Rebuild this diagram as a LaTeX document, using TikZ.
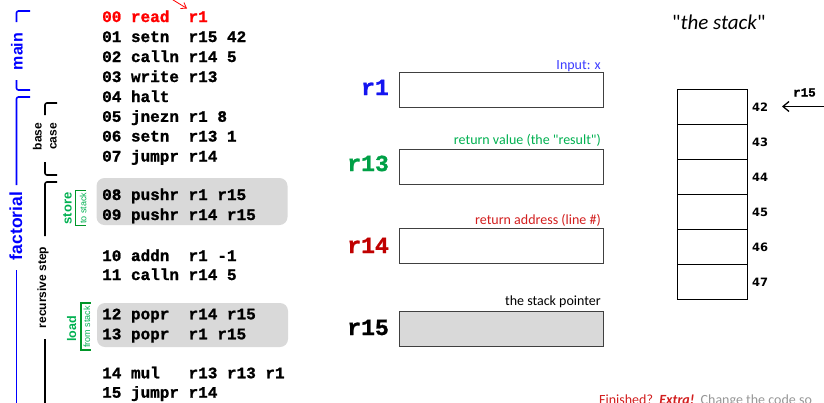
\documentclass[tikz,border=0pt]{standalone}
\usepackage{fontspec}
\setmainfont{Carlito}
\newfontfamily\codefont{Liberation Mono}[BoldFeatures={FakeBold=1.2}]
\newfontfamily\arialfont{Liberation Sans}
\newfontfamily\numfont{DejaVu Sans}
\usetikzlibrary{arrows.meta,calc}
\definecolor{regblue}{RGB}{20,20,240}
\definecolor{reggreen}{RGB}{0,160,70}
\definecolor{lblgreen}{RGB}{0,176,80}
\definecolor{regred}{RGB}{192,0,0}
\definecolor{lblred}{RGB}{210,30,30}
\definecolor{lblblue}{RGB}{60,60,255}
\definecolor{codegray}{RGB}{217,217,217}
\definecolor{brgreen}{RGB}{0,150,40}
\definecolor{txtgray}{RGB}{150,150,150}
\begin{document}
\begin{tikzpicture}[x=1pt,y=-1pt,
  codeline/.style={anchor=base west,inner sep=0pt,font=\codefont\bfseries\fontsize{16}{19}\selectfont},
  codebox/.style={fill=codegray,rounded corners=8pt,inner sep=0pt,minimum width=191pt},
  reglabel/.style={anchor=base east,inner sep=0pt,font=\codefont\bfseries\fontsize{23}{26}\selectfont},
  regbox/.style={draw=black!75,line width=0.9pt,minimum width=204pt,minimum height=35pt,inner sep=0pt},
  regnote/.style={anchor=base east,inner sep=0pt,font=\fontsize{14}{16}\selectfont},
  stackcell/.style={draw,line width=0.8pt,minimum width=70pt,minimum height=35pt,inner sep=0pt},
  stacknum/.style={anchor=base west,inner sep=0pt,font=\numfont\bfseries\fontsize{11.5}{13}\selectfont},
  sidelabel/.style={anchor=base,rotate=90,inner sep=0pt,font=\arialfont\bfseries\fontsize{#1}{#1}\selectfont},
  smalllabel/.style={anchor=base,rotate=90,inner sep=0pt,font=\arialfont\fontsize{9}{10}\selectfont},
  bracketline/.style={line width=1.6pt,rounded corners=2pt},
  gbracket/.style={line width=1.2pt,draw=brgreen}
]
\useasboundingbox (0,0) rectangle (824,402);

% gray code boxes
\node[codebox,minimum height=47pt] (storebox) at (192,201.5) {};
\node[codebox,minimum height=44pt] (loadbox) at (192.5,325) {};

% code lines
\node[codeline,text=red] (c00) at (102,22) {00 read~~r1};
\node[codeline] (c01) at (102,42) {01 setn~~r15 42};
\node[codeline] (c02) at (102,62) {02 calln r14 5};
\node[codeline] (c03) at (102,82) {03 write r13};
\node[codeline] (c04) at (102,102) {04 halt};
\node[codeline] (c05) at (102,121.8) {05 jnezn r1 8};
\node[codeline] (c06) at (102,141.5) {06 setn~~r13 1};
\node[codeline] (c07) at (102,161.5) {07 jumpr r14};
\node[codeline] (c08) at (102,200) {08 pushr r1 r15};
\node[codeline] (c09) at (102,220) {09 pushr r14 r15};
\node[codeline] (c10) at (102,261) {10 addn~~r1 -1};
\node[codeline] (c11) at (102,280) {11 calln r14 5};
\node[codeline] (c12) at (102,319.3) {12 popr~~r14 r15};
\node[codeline] (c13) at (102,339.3) {13 popr~~r1 r15};
\node[codeline] (c14) at (102,378.3) {14 mul~~~r13 r13 r1};
\node[codeline] (c15) at (102,397.7) {15 jumpr r14};

% red arrow into line 00
\coordinate (redfrom) at (165,-5);
\coordinate (redto) at (187,8.5);
\draw[red,line width=0.8pt,-{Straight Barb[length=5pt,width=7pt]}] (redfrom) -- (redto);

% left brackets
\draw[blue,bracketline] (30,11) -- (16.5,11) -- (16.5,22);
\draw[blue,bracketline] (16.5,80) -- (16.5,90) -- (30,90);
\node[sidelabel=16,text=blue] (mainlbl) at (22.5,51.5) {main};
\draw[blue,bracketline] (30,97) -- (16.5,97) -- (16.5,185);
\draw[blue,bracketline] (16.5,270) -- (16.5,410);
\node[sidelabel=17.5,text=blue] (factlbl) at (22,226) {factorial};

\draw[bracketline] (57,103) -- (45,103) -- (45,115);
\draw[bracketline] (45,162) -- (45,175) -- (57,175);
\node[sidelabel=12] (baselbl) at (41.7,136.5) {base};
\node[sidelabel=12] (caselbl) at (56.7,136.5) {case};
\draw[bracketline] (57,182) -- (45,182) -- (45,236);
\draw[bracketline] (45,339) -- (45,410);
\node[sidelabel=12] (reclbl) at (46,287.5) {recursive step};

% store / load brackets
\draw[gbracket] (86,190.5) -- (75.5,190.5) -- (75.5,225.5) -- (86,225.5);
\node[sidelabel=13,text=lblgreen] (storelbl) at (71.5,208.5) {store};
\node[smalllabel,text=lblgreen] (tostack) at (86.3,208) {to stack};
\draw[gbracket] (90.5,303) -- (81,303) -- (81,350) -- (90.5,350);
\node[sidelabel=12.5,text=lblgreen] (loadlbl) at (76,329) {load};
\node[smalllabel,text=lblgreen] (fromstack) at (90,327) {from stack};

% registers
\node[regbox] (r1box) at (501,90) {};
\node[regbox] (r13box) at (501,166.5) {};
\node[regbox] (r14box) at (501,245.5) {};
\node[regbox,fill=codegray] (r15box) at (501,328.5) {};
\node[reglabel,text=regblue] (r1lbl) at (389,95) {r1};
\node[reglabel,text=reggreen] (r13lbl) at (389,171) {r13};
\node[reglabel,text=regred] (r14lbl) at (389,253) {r14};
\node[reglabel] (r15lbl) at (389,335) {r15};
\node[regnote,text=lblblue] (r1note) at (601,69) {Input: x};
\node[regnote,text=lblgreen] (r13note) at (601,144) {return value (the \textquotedbl result\textquotedbl)};
\node[regnote,text=lblred] (r14note) at (601,224.5) {return address (line \#)};
\node[regnote] (r15note) at (601,305) {the stack pointer};

% the stack
\node[anchor=base west,inner sep=0pt,font=\fontsize{21}{24}\selectfont] (stacktitle) at (672,29) {\textquotedbl\textit{the stack}\textquotedbl};
\node[stackcell] (s42) at (712,106.5) {};
\node[stackcell] (s43) at (712,141.5) {};
\node[stackcell] (s44) at (712,176.5) {};
\node[stackcell] (s45) at (712,211.5) {};
\node[stackcell] (s46) at (712,246.5) {};
\node[stackcell] (s47) at (712,281.5) {};
\node[stacknum] (n42) at (752,111.5) {42};
\node[stacknum] (n43) at (752,146.5) {43};
\node[stacknum] (n44) at (752,181.5) {44};
\node[stacknum] (n45) at (752,216.5) {45};
\node[stacknum] (n46) at (752,251.5) {46};
\node[stacknum] (n47) at (752,286) {47};
\coordinate (ptrfrom) at (830,106.5);
\coordinate (ptrto) at (782,106.5);
\draw[line width=1.3pt,-{Straight Barb[length=6pt,width=10pt]}] (ptrfrom) -- (ptrto);
\node[anchor=base west,inner sep=0pt,font=\codefont\bfseries\fontsize{12.5}{14}\selectfont] (ptrlbl) at (793,96.5) {r15};

% bottom note
\node[anchor=base west,inner sep=0pt,font=\fontsize{14}{16}\selectfont] (extra) at (599,404)
  {\textcolor{lblred}{Finished?~~\textbf{\textit{Extra!}}}~~\textcolor{txtgray}{Change the code so}};
\end{tikzpicture}
\end{document}
